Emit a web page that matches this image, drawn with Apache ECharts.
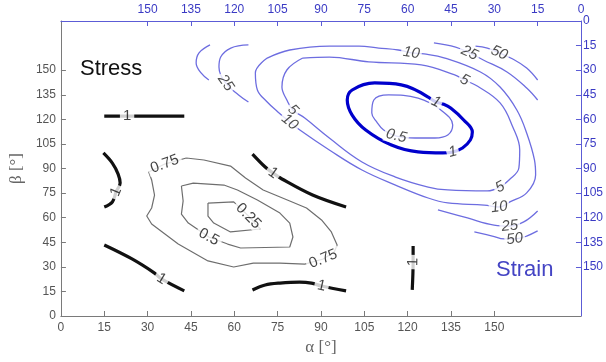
<!DOCTYPE html>
<html><head><meta charset="utf-8">
<script src="https://cdn.jsdelivr.net/npm/echarts@6/dist/echarts.min.js"></script>
<style>html,body{margin:0;padding:0;background:#fff}#c{width:606px;height:362px}</style>
</head><body><div id="c"></div>
<script>
// Axis tick values (degrees)
const tickValues = [0, 15, 30, 45, 60, 75, 90, 105, 120, 135, 150];
const axisMin = 0, axisMax = 180;

// ---- Stress contours, [alpha, beta, labelFlag] on bottom/left axes ----
const stress1A = [[15,122],[22.9,122,1],[42.7,122]];
const stress1B = [[14.7,99.5],[17.8,93.3],[19.8,86.6],[20.5,81.1],[19.1,75.7,1],[17.8,69.6],[15.0,66.5]];
const stress1C = [[15,43.3],[24.6,34.8],[32.4,26.2],[34.8,22.6,1],[42.7,15.3]];
const stress1D = [[66.3,15.9],[70.7,18.9],[75.8,20.1],[82.6,20.7],[86.7,20.1],[90.2,18.3,1],[98.7,15.3]];
const stress1E = [[66.3,98.8],[70.7,90.9],[73.4,87.2,1],[76.5,83.6],[87.1,73.8],[98.7,66.5]];
const stress1F = [[121.9,42.7],[121.9,32.9,1],[121.6,15.9]];
const stress075 = [[43.4,96.4],[49.5,95.2],[58.7,91.5],[63.9,84.2],[70.0,76.9],[79.2,70.2],[85.0,65.9],[90.2,58.6],[93.6,51.3],[95.6,43.3],[94.6,39.0],[90.8,34.8,1],[84.4,31.7],[75.8,32.3],[66.6,32.3],[59.8,29.9],[50.9,33.6],[40.6,43.9],[31.4,56.1],[29.7,61.0],[31.4,65.9],[32.4,73.8],[31.4,83.0],[30.4,87.9],[35.9,92.7,1],[43.4,96.4]];
const stress05 = [[41.7,79.3],[45.8,81.1],[56.4,79.9],[61.1,76.9],[68.0,70.8],[75.8,62.8],[79.2,56.7],[80.3,48.2],[79.2,42.1],[62.2,41.5],[57.7,43.9],[51.2,48.2,1],[44.1,56.7],[41.7,62.2],[42.3,70.2],[41.7,79.3]];
const stress025 = [[50.9,68.9],[59.8,69.6],[64.9,61.0,1],[69.0,53.1],[58.7,51.3],[52.9,56.7],[50.9,61.0],[50.9,68.9]];

// ---- Strain contours, [alpha', beta', labelFlag] on top/right (reversed) axes ----
const strain05 = [[57.4,71.4],[50.6,71.4],[46.1,69.6],[44.4,63.5],[48.5,54.3],[56.4,47.0],[66.6,45.1],[71.7,48.2],[72.4,56.1],[70.7,61.6],[68.3,66.5],[63.9,70.2,1],[57.4,71.4]];
const strain1 = [[52.9,46.4],[62.2,39.0],[71.4,37.8],[79.2,42.1],[80.9,48.2],[79.2,57.4],[74.5,66.5],[65.6,75.7],[56.4,79.9],[47.8,80.5],[44.4,79.9,1],[41.0,77.5],[38.3,72.6],[37.6,67.7],[40.6,60.4],[45.1,53.1],[47.8,50.6],[50.2,49.4,1],[52.9,46.4]];
const strain5 = [[96.3,22.6],[87.1,22.0],[73.4,25.0],[55.3,26.8],[43.7,32.9],[40.3,36.0,1],[35.9,39.7],[28.0,50.0],[23.6,64.7],[21.2,78.7],[21.5,89.7],[24.9,97.0],[28.0,101.3,1],[32.4,103.7],[46.1,103.1],[52.9,101.3],[64.2,95.2],[75.8,86.0],[87.1,71.4],[95.6,59.2],[99.7,54.3,1],[101.8,48.2],[103.5,40.3],[101.8,29.9],[96.3,22.6]];
const strain10 = [[108.6,22.6],[100.8,17.7],[87.1,15.3],[76.8,15.3],[70.0,16.5],[63.2,17.7],[58.7,19.5,1],[54.3,20.1],[47.1,22.6],[34.8,31.1],[28.0,40.3],[22.2,54.3],[18.8,68.3],[16.1,84.8],[15.7,94.0],[18.8,104.9],[24.6,110.4],[28.3,113.5,1],[33.5,112.3],[46.1,111.0],[52.9,108.0],[64.2,100.1],[75.8,90.9],[87.1,78.7],[97.3,66.5],[100.8,61.6,1],[104.9,55.5],[108.6,49.4],[112.0,42.1],[112.7,31.7],[108.6,22.6]];
const strain25A = [[115.1,14.6],[121.2,16.5],[124.7,22.0],[125.3,28.1],[123.0,37.8,1],[118.5,45.1],[115.1,49.4]];
const strain50A = [[128.4,14.6],[132.2,19.5],[133.2,25.6],[131.5,31.7],[128.8,36.0]];
const strain25B = [[50.9,13.4],[43.4,15.9],[38.6,19.5,1],[33.8,23.8],[25.6,31.1],[18.8,40.9],[15.0,48.2]];
const strain50B = [[36.5,15.3],[32.4,16.5],[28.3,19.5,1],[23.6,23.2],[18.8,28.7],[15.0,36.0]];
const strain25C = [[49.5,115.3],[39.3,120.2],[30.1,124.5],[24.6,125.1,1],[19.8,122.6],[15.0,115.9]];
const strain50C = [[36.9,128.7],[30.7,131.2],[26.6,133.0],[22.9,133.0,1],[18.8,131.2],[15.0,128.1]];

const stressContours = [
  {level: '1', pts: stress1A}, {level: '1', pts: stress1B}, {level: '1', pts: stress1C},
  {level: '1', pts: stress1D}, {level: '1', pts: stress1E}, {level: '1', pts: stress1F},
  {level: '0.75', pts: stress075}, {level: '0.5', pts: stress05}, {level: '0.25', pts: stress025}
];
const strainContours = [
  {level: '0.5', pts: strain05}, {level: '1', pts: strain1}, {level: '5', pts: strain5},
  {level: '10', pts: strain10}, {level: '25', pts: strain25A}, {level: '50', pts: strain50A},
  {level: '25', pts: strain25B}, {level: '50', pts: strain50B}, {level: '25', pts: strain25C},
  {level: '50', pts: strain50C}
];

const GREY = '#7a7a7a', BLUE_AX = '#5c5cd6', BLUE_TXT = '#3a3ac4';
const FONT = 'Liberation Sans, Arial, sans-serif';

function axisCommon(color, txtColor, margin) {
  return {
    min: axisMin, max: axisMax, interval: 15,
    axisLine: {show: true, onZero: false, lineStyle: {color: color, width: 1}},
    axisTick: {show: true, inside: true, length: 5, customValues: tickValues, lineStyle: {color: color}},
    axisLabel: {show: true, customValues: tickValues, color: txtColor, fontSize: 12, fontFamily: FONT, margin: margin},
    splitLine: {show: false}
  };
}

const series = [];
stressContours.forEach(c => {
  const thick = c.level === '1';
  series.push({
    type: 'line', xAxisIndex: 0, yAxisIndex: 0, silent: true, symbol: 'none', showSymbol: false,
    smooth: thick ? 0.35 : false, z: thick ? 4 : 3,
    lineStyle: {color: thick ? '#111' : '#6e6e6e', width: thick ? 3.2 : 1.2},
    data: c.pts.map(p => [p[0], p[1]])
  });
});
strainContours.forEach(c => {
  const thick = c.level === '1';
  series.push({
    type: 'line', xAxisIndex: 1, yAxisIndex: 1, silent: true, symbol: 'none', showSymbol: false,
    smooth: 0.4, z: thick ? 4 : 3,
    lineStyle: {color: thick ? '#0000cc' : '#6d6de0', width: thick ? 3.2 : 1.3},
    data: c.pts.map(p => [p[0], p[1]])
  });
});

const option = {
  animation: false,
  backgroundColor: '#fff',
  grid: {left: 58, right: 21, top: 21, bottom: 46, containLabel: false},
  xAxis: [
    Object.assign(axisCommon(GREY, '#555', 6), {type: 'value', position: 'bottom',
      name: 'α [°]', nameLocation: 'middle', nameGap: 20,
      nameTextStyle: {color: '#666', fontSize: 17, fontFamily: 'Liberation Serif, serif'}}),
    Object.assign(axisCommon(BLUE_AX, BLUE_TXT, 5), {type: 'value', position: 'top', inverse: true})
  ],
  yAxis: [
    Object.assign(axisCommon(GREY, '#555', 5), {type: 'value', position: 'left',
      name: 'β [°]', nameLocation: 'middle', nameGap: 32,
      nameTextStyle: {color: '#666', fontSize: 17, fontFamily: 'Liberation Serif, serif'}}),
    Object.assign(axisCommon(BLUE_AX, BLUE_TXT, 2), {type: 'value', position: 'right', inverse: true})
  ],
  graphic: [
    {type: 'text', left: 80, top: 58, style: {text: 'Stress', fill: '#111', font: '22px ' + FONT}},
    {type: 'text', left: 496, top: 259, style: {text: 'Strain', fill: '#4444c4', font: '22px ' + FONT}}
  ],
  series: series
};

const chart = echarts.init(document.getElementById('c'), null, {renderer: 'canvas'});
chart.setOption(option);

function labelItems(contours, offset) {
  const items = [];
  contours.forEach((c, k) => {
    const si = offset + k, pts = c.pts, n = pts.length;
    const closed = pts[0][0] === pts[n - 1][0] && pts[0][1] === pts[n - 1][1];
    pts.forEach((p, i) => {
      if (!p[2]) return;
      const a = i > 0 ? pts[i - 1] : (closed ? pts[n - 2] : p);
      const b = i < n - 1 ? pts[i + 1] : (closed ? pts[1] : p);
      const pa = chart.convertToPixel({seriesIndex: si}, [a[0], a[1]]);
      const pb = chart.convertToPixel({seriesIndex: si}, [b[0], b[1]]);
      let ang = Math.atan2(-(pb[1] - pa[1]), pb[0] - pa[0]) * 180 / Math.PI;
      if (ang > 90) ang -= 180;
      if (ang < -90) ang += 180;
      items.push({value: [p[0], p[1]], name: c.level, label: {rotate: ang}});
    });
  });
  return items;
}

const stressLabels = labelItems(stressContours, 0);
const strainLabels = labelItems(strainContours, stressContours.length);

series.push({
  type: 'scatter', xAxisIndex: 0, yAxisIndex: 0, silent: true, symbolSize: 0, z: 10,
  label: {show: true, position: 'inside', formatter: '{b}', color: '#111', fontSize: 15,
    fontFamily: FONT, backgroundColor: '#fff', padding: [0, 3]},
  data: stressLabels
});
series.push({
  type: 'scatter', xAxisIndex: 1, yAxisIndex: 1, silent: true, symbolSize: 0, z: 10,
  label: {show: true, position: 'inside', formatter: '{b}', color: '#222', fontSize: 15,
    fontStyle: 'italic', fontFamily: FONT, backgroundColor: '#fff', padding: [0, 2]},
  data: strainLabels
});
chart.setOption({series: series});
</script></body></html>
